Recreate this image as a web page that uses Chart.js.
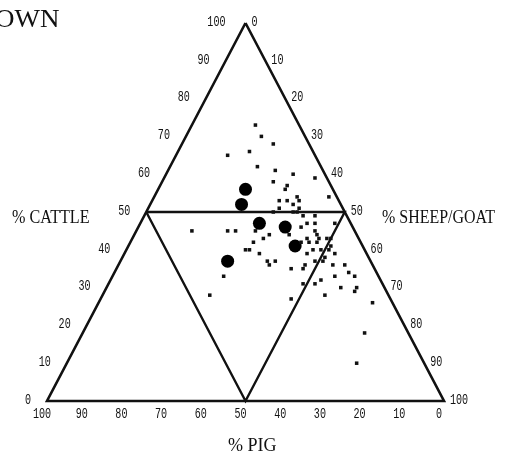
<!DOCTYPE html>
<html><head><meta charset="utf-8">
<script src="https://cdn.jsdelivr.net/npm/chart.js@4"></script>
<style>html,body{margin:0;padding:0;background:#fff}#wrap{width:512px;height:459px;position:relative}</style>
</head><body><div id="wrap"><canvas id="c"></canvas></div>
<script>
// Small samples: % cattle, % sheep/goat, % pig
const cattle = [73,70,68,66,65,62,61,60,59,58,57,56,54,53,51,53,52,54,53,51,50,50,50,49,49,47,47,47,45,45,45,45,43,44,42,40,40,39,44,46,45,44,43,43,43,43,42,42,42,41,39,40,40,40,38,39,37,36,37,35,36,35,37,37,36,36,34,33,33,31,31,32,30,30,29,28,27,26,18,10,33,28];
const sheep  = [16,19,23,18,13,22,27,32,38,28,32,32,44,32,33,34,36,36,37,38,32,37,38,40,43,49,42,44,14,23,25,30,33,34,31,30,31,34,39,41,45,46,44,47,49,50,43,45,47,51,46,47,49,51,51,53,37,38,39,44,47,47,49,51,54,57,59,61,56,49,52,53,59,63,63,56,48,69,71,73,28,27];
const pig    = [11,11,9,16,22,16,12,8,3,14,11,12,2,15,16,13,12,10,10,11,18,13,12,11,8,4,11,9,41,32,30,25,24,22,27,30,29,27,17,13,10,10,13,10,8,7,15,13,11,8,15,13,11,9,11,8,26,26,24,21,17,18,14,12,10,7,7,6,11,20,17,15,11,7,8,16,25,5,11,17,39,45];
// Large samples
const bigCattle = [56,52,47,46,41,37];
const bigSheep  = [22,23,30,37,42,27];
const bigPig    = [22,25,23,17,17,36];
// Tick labels
const tickValues = [0,10,20,30,40,50,60,70,80,90,100];
const axisTitles = {cattle:'% CATTLE', sheep:'% SHEEP/GOAT', pig:'% PIG'};
const cornerTitle = 'OWN';

function tern(c,s,p){const t=c+s+p;const C=c/t*100,S=s/t*100;return {x:S+C/2,y:C};}
const small = cattle.map((c,i)=>tern(c,sheep[i],pig[i]));
const big = bigCattle.map((c,i)=>tern(c,bigSheep[i],bigPig[i]));
const outer = [tern(100,0,0),tern(0,0,100),tern(0,100,0),tern(100,0,0)];
const inner = [tern(50,0,50),tern(50,50,0),tern(0,50,50),tern(50,0,50)];

const labelPlugin = {
  id:'ternLabels',
  afterDatasetsDraw(chart){
    const ctx=chart.ctx, xs=chart.scales.x, ys=chart.scales.y;
    const px=pt=>({x:xs.getPixelForValue(pt.x),y:ys.getPixelForValue(pt.y)});
    ctx.save();
    ctx.fillStyle='#111';
    function txt(s,x,y,align,font,sx){
      ctx.save();ctx.font=font;ctx.textAlign=align;ctx.textBaseline='middle';
      ctx.translate(x,y);ctx.scale(sx,1);ctx.fillText(s,0,0);ctx.restore();
    }
    const tf="14px 'Liberation Mono'";
    tickValues.forEach(v=>{
      // cattle on left side
      let p=px(tern(v,0,100-v));
      txt(String(v),p.x-(v===100?20:16),p.y-1,'right',tf,0.72);
      // sheep on right side
      p=px(tern(100-v,v,0));
      txt(String(v),p.x+6,p.y-1,'left',tf,0.72);
      // pig on bottom
      p=px(tern(0,100-v,v));
      txt(String(v),p.x-5,p.y+13,'center',tf,0.72);
    });
    const af="19px 'Liberation Serif'";
    txt(axisTitles.cattle,12,218,'left',af,0.85);
    txt(axisTitles.sheep,382,218,'left',af,0.84);
    txt(axisTitles.pig,228,446,'left',af,0.95);
    txt(cornerTitle,-5,20,'left',"25px 'Liberation Serif'",1.08);
    ctx.restore();
  }
};

new Chart(document.getElementById('c'),{
  type:'scatter',
  data:{datasets:[
    {data:outer,showLine:true,borderColor:'#111',borderWidth:2.6,pointRadius:0,fill:false,tension:0,borderJoinStyle:'miter'},
    {data:inner,showLine:true,borderColor:'#111',borderWidth:2.4,pointRadius:0,fill:false,tension:0,borderJoinStyle:'miter'},
    {data:small,pointStyle:'rect',pointRadius:2.5,backgroundColor:'#111',borderWidth:0},
    {data:big,pointStyle:'circle',pointRadius:6.5,backgroundColor:'#000',borderWidth:0}
  ]},
  options:{
    responsive:true,maintainAspectRatio:false,animation:false,
    layout:{padding:{left:47,right:68,top:23,bottom:58}},
    plugins:{legend:{display:false},tooltip:{enabled:false}},
    scales:{
      x:{type:'linear',min:0,max:100,display:false},
      y:{type:'linear',min:0,max:100,display:false}
    },
    clip:false
  },
  plugins:[labelPlugin]
});
</script></body></html>
